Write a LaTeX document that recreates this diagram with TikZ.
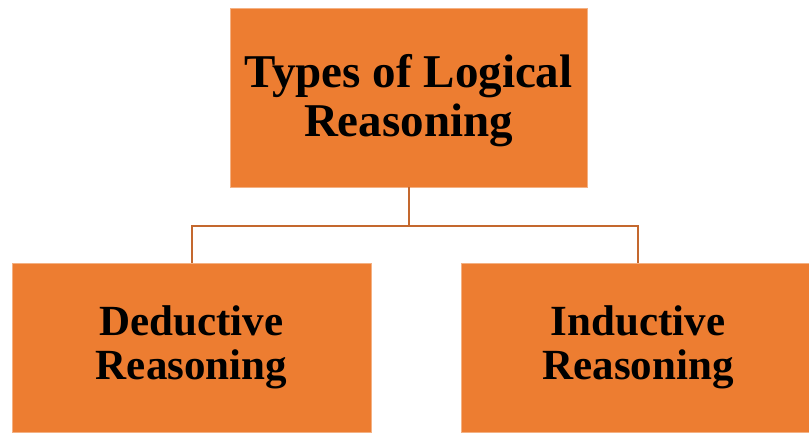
\documentclass[tikz,border=0pt]{standalone}
\usepackage{fontspec}
\setmainfont{Liberation Serif}
\usepackage{xcolor}
\usepackage{tikz}
\usetikzlibrary{positioning}

\definecolor{boxorange}{RGB}{237,125,49}
\definecolor{linkbrown}{RGB}{196,104,46}

\begin{document}
\begin{tikzpicture}[x=1pt,y=1pt,yscale=-1,xscale=1,
  topic/.style={fill=boxorange, draw=boxorange!60!white, line width=0.6pt, align=center, inner sep=0pt},
  link/.style={draw=linkbrown, line width=2pt}]
\useasboundingbox (0,0) rectangle (809,432);

% Top box
\node [topic, minimum width=357, minimum height=179, font=\bfseries\fontsize{47}{49}\selectfont] (types) at (408.5,97.5) {\rule{0pt}{40pt}Types of Logical\\Reasoning};
% Bottom boxes
\node [topic, minimum width=359, minimum height=169, font=\bfseries\fontsize{43}{44}\selectfont] (deductive) at (191.5,347.5) {Deductive\\Reasoning};
\node [topic, minimum width=354, minimum height=169, font=\bfseries\fontsize{43}{44}\selectfont] (inductive) at (638,347.5) {Inductive\\Reasoning};

% Connectors
\coordinate (fork) at (408.5,226);
\draw [link] (types.south) -- (fork);
\draw [link] (fork) -| (deductive.north);
\draw [link] (fork) -| (inductive.north);

\end{tikzpicture}
\end{document}
